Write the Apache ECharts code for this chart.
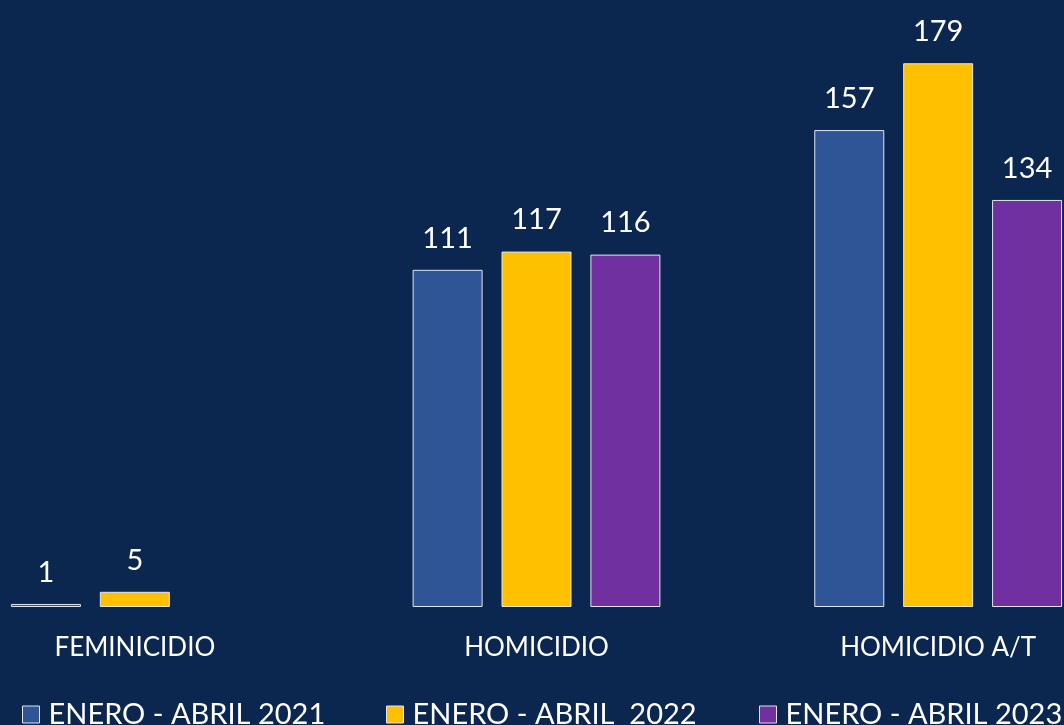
<!DOCTYPE html>
<html><head><meta charset="utf-8">
<script src="https://cdn.jsdelivr.net/npm/echarts@6/dist/echarts.min.js"></script>
<style>html,body{margin:0;padding:0;background:#0b274f;overflow:hidden;width:1064px;height:725px;position:relative;}#c{position:absolute;left:-66px;top:0;width:1205px;height:725px;}</style>
</head><body><div id="c"></div>
<script>
const categories = ['FEMINICIDIO', 'HOMICIDIO', 'HOMICIDIO A/T'];
const seriesNames = ['ENERO - ABRIL 2021', 'ENERO - ABRIL  2022', 'ENERO - ABRIL 2023'];
const values2021 = [1, 111, 157];
const values2022 = [5, 117, 179];
const values2023 = [null, 116, 134];
const colors = ['#2f5597', '#ffc000', '#7030a0'];

const font = 'Lato, "Open Sans", sans-serif';
const offsetX = 66;
const legendLefts = [22, 386, 759];
const chart = echarts.init(document.getElementById('c'));
const data = [values2021, values2022, values2023];
chart.setOption({
  backgroundColor: '#0b274f',
  animation: false,
  grid: { left: 0, right: 0, top: 60.2, height: 546.8, containLabel: false },
  legend: seriesNames.map((n, i) => ({
    left: legendLefts[i] + offsetX, bottom: -4, itemWidth: 17, itemHeight: 17,
    icon: 'rect', padding: 0,
    textStyle: { color: '#ffffff', fontSize: 29, fontFamily: font, padding: [0, 0, 0, 4] },
    itemStyle: { borderColor: '#dfe6f0', borderWidth: 1 },
    data: [n]
  })),
  xAxis: {
    type: 'category', data: categories,
    axisLine: { show: false }, axisTick: { show: false },
    axisLabel: { color: '#ffffff', fontSize: 26, fontFamily: font, margin: 28 }
  },
  yAxis: { type: 'value', min: 0, max: 180, show: false, splitLine: { show: false } },
  series: seriesNames.map((n, i) => ({
    name: n, type: 'bar', data: data[i], barWidth: 70, barGap: '27%',
    itemStyle: { color: colors[i], borderColor: '#dfe6f0', borderWidth: 1 },
    label: { show: true, position: 'top', distance: 17, color: '#ffffff', fontSize: 29, fontFamily: font }
  }))
});
</script></body></html>
